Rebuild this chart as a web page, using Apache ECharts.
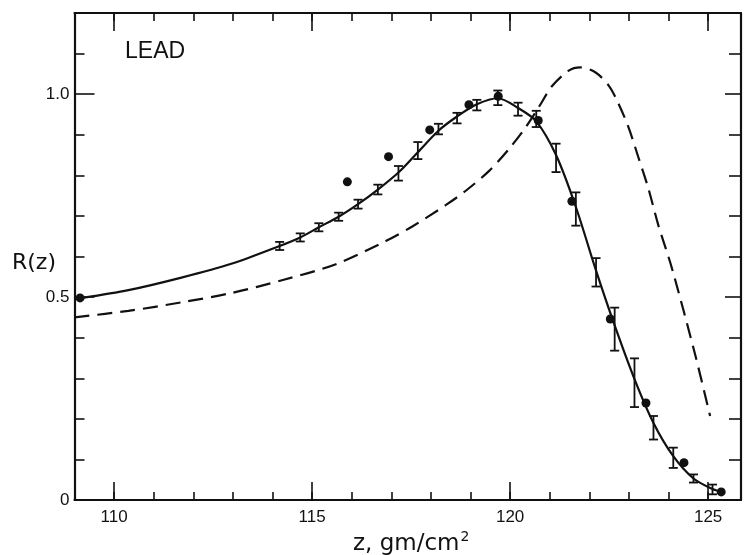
<!DOCTYPE html>
<html><head><meta charset="utf-8">
<script src="https://cdn.jsdelivr.net/npm/echarts@6/dist/echarts.min.js"></script>
<style>html,body{margin:0;padding:0;background:#fff}#c{width:744px;height:555px}</style>
</head><body><div id="c"></div>
<script>
// ---- data ----
const solidZ = [109.2, 110.36, 111.7, 112.96, 114.18, 114.7, 115.17, 115.67, 116.16, 116.66, 117.18, 117.67, 118.19, 118.66, 119.16, 119.69, 120.2, 120.66, 121.16, 121.66, 122.17, 122.64, 123.14, 123.62, 124.12, 124.63, 125.11, 125.33];
const solidR = [0.498, 0.517, 0.548, 0.582, 0.626, 0.647, 0.672, 0.698, 0.729, 0.765, 0.807, 0.857, 0.910, 0.945, 0.975, 0.990, 0.966, 0.933, 0.850, 0.722, 0.565, 0.430, 0.298, 0.190, 0.108, 0.053, 0.027, 0.020];

const dashZ = [109.0, 110.36, 111.7, 112.96, 114.26, 115.6, 116.86, 117.53, 118.38, 118.88, 119.47, 119.97, 120.39, 120.73, 121.06, 121.48, 121.77, 122.15, 122.49, 122.74, 122.99, 123.24, 123.49, 123.74, 124.08, 124.67, 125.05];
const dashR = [0.450, 0.466, 0.487, 0.510, 0.542, 0.581, 0.638, 0.674, 0.727, 0.762, 0.811, 0.865, 0.918, 0.969, 1.020, 1.058, 1.066, 1.054, 1.021, 0.976, 0.918, 0.844, 0.768, 0.678, 0.573, 0.359, 0.207];

const barZ   = [114.18, 114.7, 115.17, 115.67, 116.16, 116.66, 117.18, 117.67, 118.19, 118.66, 119.16, 119.69, 120.2, 120.66, 121.16, 121.66, 122.17, 122.64, 123.14, 123.62, 124.12, 124.63, 125.11];
const barR   = [0.626, 0.647, 0.672, 0.698, 0.729, 0.765, 0.805, 0.861, 0.914, 0.941, 0.973, 0.991, 0.963, 0.939, 0.843, 0.717, 0.561, 0.421, 0.289, 0.178, 0.104, 0.053, 0.026];
const barErr = [0.010, 0.010, 0.010, 0.010, 0.011, 0.012, 0.018, 0.021, 0.013, 0.013, 0.013, 0.018, 0.016, 0.020, 0.035, 0.041, 0.035, 0.053, 0.060, 0.029, 0.025, 0.010, 0.012];

const dotZ = [109.14, 115.89, 116.93, 117.97, 118.96, 119.7, 120.71, 121.56, 122.53, 123.43, 124.39, 125.33];
const dotR = [0.498, 0.784, 0.846, 0.912, 0.974, 0.995, 0.935, 0.736, 0.446, 0.239, 0.092, 0.020];

const xMajorTicks = [110, 115, 120, 125];
const yLabelText = {0: '0', 0.5: '0.5', 1: '1.0'};

// ---- build ----
const zip = (a, b, c) => a.map((v, i) => c ? [v, b[i], c[i]] : [v, b[i]]);
const ink = '#111';
const X_MIN = 109, X_MAX = 125.83;
const tickFont = {fontFamily: 'Liberation Sans', fontSize: 17, color: ink};

function xAx(pos, major, showLabels) {
  return {
    type: 'value', position: pos, min: X_MIN, max: X_MAX, offset: 0,
    interval: major ? undefined : 1,
    axisLine: {show: !major, onZero: false, lineStyle: {color: ink, width: 2.2}},
    axisTick: major
      ? {show: true, inside: true, length: 18, customValues: xMajorTicks, lineStyle: {color: ink, width: 1.6}}
      : {show: true, inside: true, length: 8, lineStyle: {color: ink, width: 1.6}},
    axisLabel: showLabels ? Object.assign({show: true, margin: 9, customValues: xMajorTicks, formatter: v => String(v)}, tickFont) : {show: false},
    splitLine: {show: false}
  };
}
function yAx(pos, showLabels) {
  return {
    type: 'value', position: pos, min: 0, max: 1.2, interval: 0.5, offset: 0,
    axisLine: {show: true, onZero: false, lineStyle: {color: ink, width: 2.2}},
    axisTick: {show: true, inside: true, length: pos === 'left' ? 20 : 16, lineStyle: {color: ink, width: 1.6}},
    minorTick: {show: true, splitNumber: 5, length: pos === 'left' ? 10 : 12, lineStyle: {color: ink, width: 1.6}},
    axisLabel: showLabels ? Object.assign({show: true, margin: 5, formatter: v => {
      const k = Object.keys(yLabelText).find(t => Math.abs(+t - v) < 1e-6);
      return k !== undefined ? yLabelText[k] : '';
    }}, tickFont) : {show: false},
    splitLine: {show: false}, minorSplitLine: {show: false}
  };
}

const chart = echarts.init(document.getElementById('c'), null, {renderer: 'canvas'});
chart.setOption({
  backgroundColor: '#fff',
  animation: false,
  grid: {left: 74.5, right: 3, top: 13, bottom: 55, outerBoundsMode: 'none', containLabel: false},
  xAxis: [xAx('bottom', false, false), xAx('bottom', true, true), xAx('top', false, false), xAx('top', true, false)],
  yAxis: [yAx('left', true), yAx('right', false)],
  graphic: [
    {type: 'text', left: 125, top: 40, style: {text: 'LEAD', fontFamily: 'Liberation Sans', fontSize: 23, fill: ink}},
    {type: 'text', left: 12, top: 252, style: {text: 'R(z)', fontFamily: 'DejaVu Sans', fontSize: 22, fill: ink}},
    {type: 'text', left: 353, top: 530, style: {
      text: '{a|z, gm/cm}{s|2}', fill: ink,
      rich: {
        a: {fontFamily: 'DejaVu Sans', fontSize: 23, fill: ink, lineHeight: 28},
        s: {fontFamily: 'DejaVu Sans', fontSize: 14, fill: ink, verticalAlign: 'top', lineHeight: 14, padding: [0, 0, 0, 1]}
      }
    }}
  ],
  series: [
    {type: 'line', name: 'dashed', data: zip(dashZ, dashR), smooth: 0.3, showSymbol: false,
     lineStyle: {color: ink, width: 2.2, type: [15, 8]}, z: 2},
    {type: 'line', name: 'solid', data: zip(solidZ, solidR), smooth: 0.3, showSymbol: false,
     lineStyle: {color: ink, width: 2.2}, z: 3},
    {type: 'custom', name: 'bars', data: zip(barZ, barR, barErr), z: 4,
     encode: {x: 0, y: 1},
     renderItem: (params, api) => {
       const x = api.value(0), y = api.value(1), e = api.value(2);
       const t = api.coord([x, y + e]), b = api.coord([x, y - e]);
       const hw = 4.5, st = {stroke: ink, lineWidth: 1.8};
       return {type: 'group', children: [
         {type: 'line', shape: {x1: t[0], y1: t[1], x2: b[0], y2: b[1]}, style: st},
         {type: 'line', shape: {x1: t[0] - hw, y1: t[1], x2: t[0] + hw, y2: t[1]}, style: st},
         {type: 'line', shape: {x1: b[0] - hw, y1: b[1], x2: b[0] + hw, y2: b[1]}, style: st}
       ]};
     }},
    {type: 'scatter', name: 'dots', data: zip(dotZ, dotR), symbol: 'circle', symbolSize: 9,
     itemStyle: {color: ink, opacity: 1}, z: 5}
  ]
});
</script></body></html>
